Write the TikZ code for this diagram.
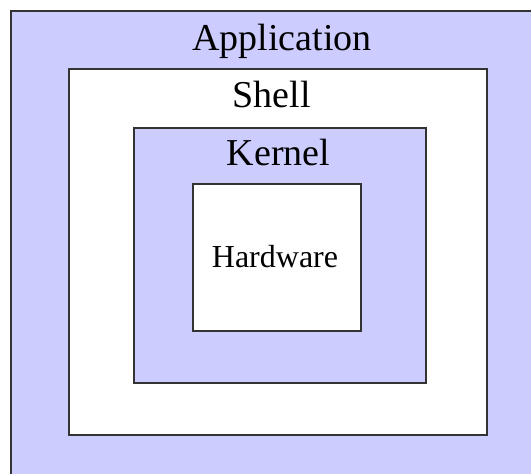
\documentclass[tikz,border=0pt]{standalone}
\usepackage{fontspec}
\setmainfont{Liberation Serif}
\usepackage{tikz}
\usetikzlibrary{positioning}
\definecolor{layerblue}{HTML}{CCCCFF}
\definecolor{layerline}{HTML}{333333}

\begin{document}
\begin{tikzpicture}[
    x=1pt, y=-1pt,
    layer/.style={
        draw=layerline,
        line width=1.5pt,
        inner sep=0pt,
        anchor=north west
    },
    title/.style={
        anchor=base,
        inner sep=0pt,
        font=\fontsize{38}{40}\selectfont
    }
]

% Page
\clip (0,0) rectangle (531,474);
\fill[white] (0,0) rectangle (531,474);

% Layer boxes
\node[layer, fill=layerblue, minimum width=534pt, minimum height=482pt] (app) at (10,10) {};
\node[layer, fill=white, minimum width=418pt, minimum height=366pt] (shell) at (68,68) {};
\node[layer, fill=layerblue, minimum width=292pt, minimum height=255pt] (kernel) at (133,127) {};
\node[layer, fill=white, minimum width=168pt, minimum height=147pt] (hardware) at (192,183) {};

% Labels
\node[title] (applabel) at (282,50) {Application};
\node[title] (shelllabel) at (271.5,107) {Shell};
\node[title] (kernellabel) at (278.5,165) {Kernel};
\node[title, font=\fontsize{32}{34}\selectfont] (hardwarelabel) at (275,267) {Hardware};

\end{tikzpicture}
\end{document}
